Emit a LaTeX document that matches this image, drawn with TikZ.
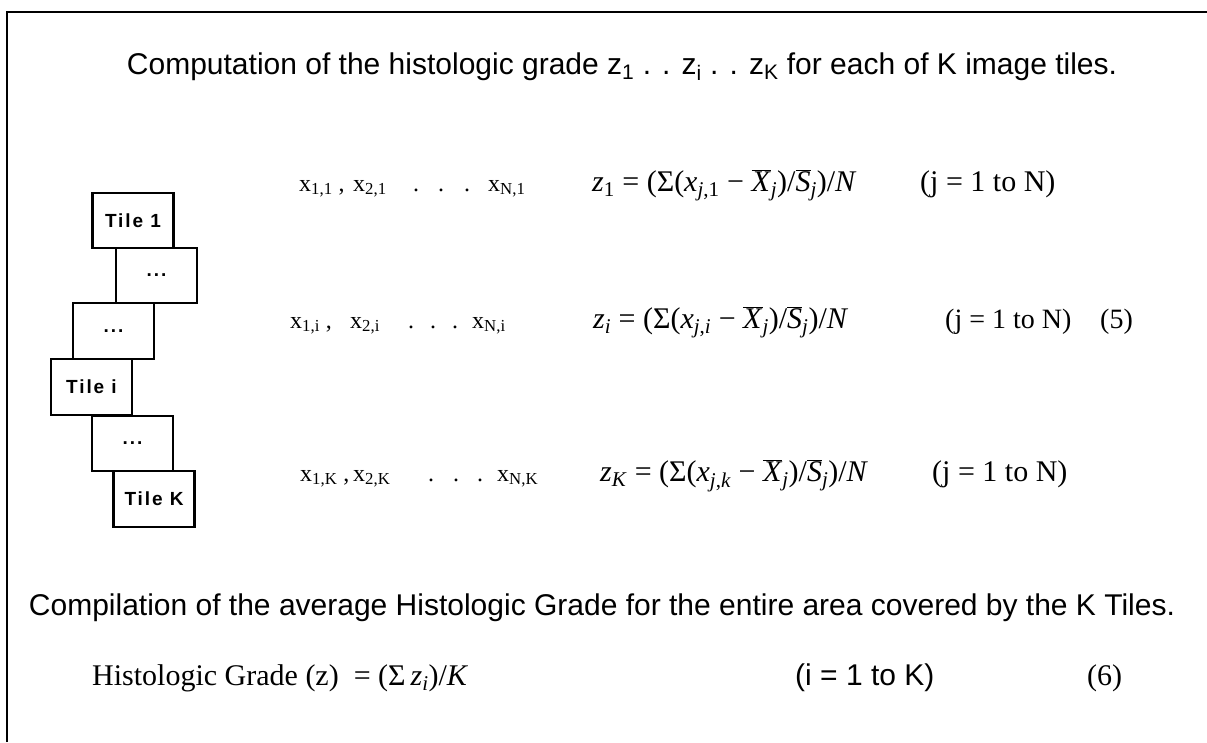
\documentclass[tikz,border=0pt]{standalone}
\usepackage{fontspec}
\setmainfont{Liberation Serif}
\newfontfamily\arialfont{Liberation Sans}
\newfontfamily\tilefont[LetterSpace=10]{Liberation Sans}
\newcommand\sub[1]{\textsubscript{#1}}
\newcommand\barX{$\overline{\mbox{\textit{X}}}$}
\newcommand\barS{$\overline{\mbox{\textit{S}}}$}
\begin{document}
\begin{tikzpicture}[x=1pt,y=-1pt,
    tilebox/.style={draw,line width=2.4pt,minimum width=81pt,minimum height=55.5pt,inner sep=0pt,font=\tilefont\bfseries\fontsize{19}{19}\selectfont},
    heading/.style={font=\arialfont\fontsize{30}{30}\selectfont,anchor=base,inner sep=0pt},
    row/.style={font=\fontsize{30}{30}\selectfont,anchor=base west,inner sep=0pt},
    xlist/.style={row,font=\fontsize{24}{24}\selectfont}]
    \useasboundingbox (0,0) rectangle (1207,742);
    \draw[line width=1.4pt] (7,742) -- (7,12) -- (1207,12);
    \node[heading] (title) at (622,74) {Computation of the histologic grade z\sub{1} . . z\sub{i} . . z\sub{K} for each of K image tiles.};
    % stack of image tiles
    \node[tilebox] (tile1) at (133,220.5) {Tile 1};
    \node[tilebox] (tiledotsa) at (156.5,275.5) {...};
    \node[tilebox] (tiledotsb) at (113.5,331) {...};
    \node[tilebox] (tilei) at (91.5,387) {Tile i};
    \node[tilebox] (tiledotsc) at (132.5,443.5) {...};
    \node[tilebox] (tileK) at (154,499) {Tile K};
    % tile 1
    \node[xlist] (xa1) at (299,191) {x\sub{1,1} ,};
    \node[xlist] (xb1) at (353,191) {x\sub{2,1}};
    \node[xlist] (da1) at (413,191) {.};
    \node[xlist] (db1) at (438,191) {.};
    \node[xlist] (dc1) at (464,191) {.};
    \node[xlist] (xn1) at (488,191) {x\sub{N,1}};
    \node[row] (z1) at (592,191) {\textit{z}\sub{1} = (Σ(\textit{x}\sub{\textit{j},1} − \barX\sub{\textit{j}})/\barS\sub{\textit{j}})/\textit{N}};
    \node[row] (j1) at (920,191) {(j = 1 to N)};
    % tile i
    \node[xlist] (xai) at (290,328) {x\sub{1,i} ,};
    \node[xlist] (xbi) at (350,328) {x\sub{2,i}};
    \node[xlist] (dai) at (408,328) {.};
    \node[xlist] (dbi) at (430,328) {.};
    \node[xlist] (dci) at (452,328) {.};
    \node[xlist] (xni) at (472,328) {x\sub{N,i}};
    \node[row] (zi) at (593,328) {\textit{z}\sub{\textit{i}} = (Σ(\textit{x}\sub{\textit{j},\textit{i}} − \barX\sub{\textit{j}})/\barS\sub{\textit{j}})/\textit{N}};
    \node[row,font=\fontsize{28}{28}\selectfont] (ji) at (945,328) {(j = 1 to N)};
    \node[row,font=\fontsize{28}{28}\selectfont] (eqfive) at (1100,328) {(5)};
    % tile K
    \node[xlist] (xaK) at (300,481) {x\sub{1,K} ,};
    \node[xlist] (xbK) at (353,481) {x\sub{2,K}};
    \node[xlist] (daK) at (428,481) {.};
    \node[xlist] (dbK) at (453,481) {.};
    \node[xlist] (dcK) at (477,481) {.};
    \node[xlist] (xnK) at (497,481) {x\sub{N,K}};
    \node[row] (zK) at (600,481) {\textit{z}\sub{\textit{K}} = (Σ(\textit{x}\sub{\textit{j},\textit{k}} − \barX\sub{\textit{j}})/\barS\sub{\textit{j}})/\textit{N}};
    \node[row] (jK) at (932,481) {(j = 1 to N)};
    % average over all tiles
    \node[heading] (compil) at (602,615) {Compilation of the average Histologic Grade for the entire area covered by the K Tiles.};
    \node[row] (grade) at (92,685) {Histologic Grade (z)\ \ = (Σ\,\textit{z}\sub{\textit{i}})/\textit{K}};
    \node[row,font=\arialfont\fontsize{30}{30}\selectfont] (iK) at (795,685) {(i = 1 to K)};
    \node[row] (eqsix) at (1087,685) {(6)};
\end{tikzpicture}
\end{document}
